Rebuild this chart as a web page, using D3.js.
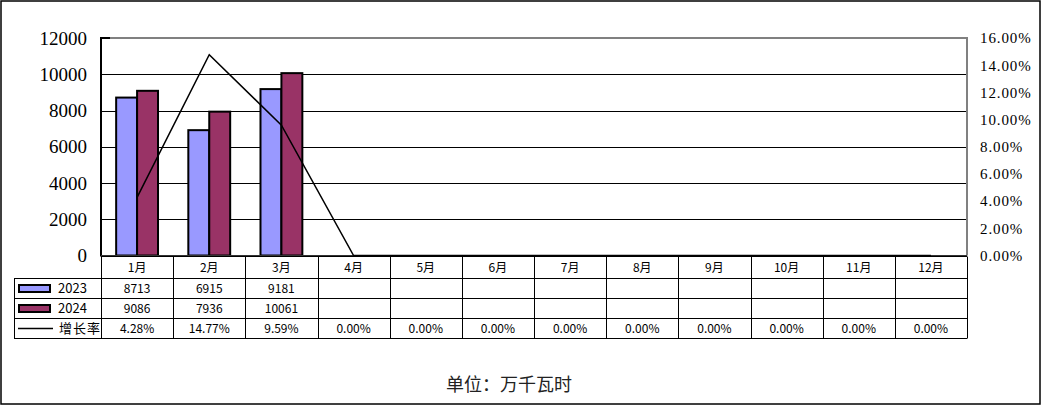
<!DOCTYPE html>
<html><head><meta charset="utf-8">
<script src="https://cdn.jsdelivr.net/npm/d3@7"></script>
<style>
html,body{margin:0;padding:0;background:#fff;}
svg{display:block;}
</style></head>
<body>
<svg id="c" width="1042" height="406"></svg>
<script>
const months = ["1月","2月","3月","4月","5月","6月","7月","8月","9月","10月","11月","12月"];
const seriesNames = ["2023","2024"];
const values2023 = [8713, 6915, 9181];
const values2024 = [9086, 7936, 10061];
const growth = [4.28, 14.77, 9.59, 0, 0, 0, 0, 0, 0, 0, 0, 0];
const leftTicks = [0, 2000, 4000, 6000, 8000, 10000, 12000];
const rightTicks = [0, 2, 4, 6, 8, 10, 12, 14, 16];
const lineName = "增长率";
const unitLabel = "单位：万千瓦时";
const colors = {"2023": "#9999ff", "2024": "#993366"};

const svg = d3.select("#c");
const X0 = 101, X1 = 967, YT = 38, YB = 255.5;

// outer frame
svg.append("rect").attr("x",1).attr("y",1).attr("width",1039).attr("height",403)
  .attr("fill","none").attr("stroke","#000").attr("stroke-width",1.5);

const x = d3.scaleBand().domain(months).range([X0, X1]).padding(0);
const bw = x.bandwidth();
const xs = d3.scaleBand().domain(seriesNames).range([bw*0.21, bw*0.79]).padding(0);
const yL = d3.scaleLinear().domain([0, 12000]).range([YB, YT]);
const yR = d3.scaleLinear().domain([0, 16]).range([YB, YT]);

// gridlines
svg.append("g").selectAll("line").data(leftTicks.filter(t => t>0 && t<12000)).join("line")
  .attr("x1", X0).attr("x2", X1).attr("y1", d => Math.round(yL(d))+0.5).attr("y2", d => Math.round(yL(d))+0.5)
  .attr("stroke", "#000").attr("stroke-width", 1);

// plot border (grey)
svg.append("path").attr("d", `M${X0},${YT}H${X1}V${YB}`).attr("fill","none")
  .attr("stroke","#808080").attr("stroke-width",2);
// left axis
svg.append("line").attr("x1",X0).attr("x2",X0).attr("y1",YT).attr("y2",YB+1).attr("stroke","#000").attr("stroke-width",2);
svg.append("line").attr("x1",X0-1).attr("x2",X0+9).attr("y1",YT).attr("y2",YT).attr("stroke","#000").attr("stroke-width",2);

// left axis labels
const axL = d3.axisLeft(yL).tickValues(leftTicks).tickSize(0).tickPadding(14).tickFormat(d3.format("d"));
const gL = svg.append("g").attr("transform", `translate(${X0},0)`).call(axL);
gL.select(".domain").remove();
gL.selectAll("text").attr("font-family","'Liberation Serif', serif").attr("font-size",19).attr("fill","#000");

// right axis labels
const axR = d3.axisRight(yR).tickValues(rightTicks).tickSize(0).tickPadding(13)
  .tickFormat(d => d3.format(".2f")(d) + "%");
const gR = svg.append("g").attr("transform", `translate(${X1},0)`).call(axR);
gR.select(".domain").remove();
gR.selectAll("text").attr("font-family","'Liberation Serif', serif").attr("font-size",15)
  .attr("letter-spacing","0.9px").attr("fill","#000");

// bars
const barData = [];
values2023.forEach((v,i) => barData.push({m: months[i], s: "2023", v}));
values2024.forEach((v,i) => barData.push({m: months[i], s: "2024", v}));
svg.append("g").selectAll("rect").data(barData).join("rect")
  .attr("x", d => x(d.m) + xs(d.s))
  .attr("y", d => yL(d.v))
  .attr("width", xs.bandwidth())
  .attr("height", d => YB - yL(d.v))
  .attr("fill", d => colors[d.s])
  .attr("stroke", "#000").attr("stroke-width", 2);

// x axis baseline
svg.append("line").attr("x1",X0).attr("x2",X1).attr("y1",YB+0.5).attr("y2",YB+0.5).attr("stroke","#333").attr("stroke-width",2);

// growth line
const line = d3.line().x((d,i) => x(months[i]) + bw/2).y(d => yR(d));
svg.append("path").datum(growth).attr("d", line).attr("fill","none")
  .attr("stroke","#000").attr("stroke-width",1.5);

// data table
const TX0 = 14;
const rowsY = [256.5, 278.5, 298.5, 318.5, 338.5];
const tbl = svg.append("g").attr("stroke","#000").attr("stroke-width",1);
tbl.append("line").attr("x1",X0).attr("x2",X1).attr("y1",rowsY[0]).attr("y2",rowsY[0]);
[1,2,3,4].forEach(i => tbl.append("line").attr("x1",TX0).attr("x2",X1).attr("y1",rowsY[i]).attr("y2",rowsY[i]));
const colEdges = months.map(m => x(m)).concat([X1]);
tbl.selectAll("line.v").data(colEdges).join("line").attr("class","v")
  .attr("x1", d => Math.round(d)+0.5).attr("x2", d => Math.round(d)+0.5)
  .attr("y1", rowsY[0]).attr("y2", rowsY[4]);
tbl.append("line").attr("x1",TX0+0.5).attr("x2",TX0+0.5).attr("y1",rowsY[1]).attr("y2",rowsY[4]);

const tfont = "'Noto Sans CJK SC', 'DejaVu Sans', sans-serif";
const tt = svg.append("g").attr("font-family",tfont).attr("font-size",12).attr("fill","#000").attr("text-anchor","middle");
tt.selectAll("text.h").data(months).join("text").attr("class","h")
  .attr("x", d => x(d)+bw/2).attr("y", (rowsY[0]+rowsY[1])/2).attr("dy","0.36em").text(d => d);
tt.selectAll("text.a").data(values2023).join("text").attr("class","a")
  .attr("x", (d,i) => x(months[i])+bw/2).attr("y", (rowsY[1]+rowsY[2])/2).attr("dy","0.36em").text(d => d);
tt.selectAll("text.b").data(values2024).join("text").attr("class","b")
  .attr("x", (d,i) => x(months[i])+bw/2).attr("y", (rowsY[2]+rowsY[3])/2).attr("dy","0.36em").text(d => d);
tt.selectAll("text.g").data(growth).join("text").attr("class","g")
  .attr("x", (d,i) => x(months[i])+bw/2).attr("y", (rowsY[3]+rowsY[4])/2).attr("dy","0.36em")
  .text(d => d3.format(".2f")(d) + "%");

// legend column
const lg = svg.append("g");
seriesNames.forEach((s,i) => {
  const cy = (rowsY[i+1]+rowsY[i+2])/2;
  lg.append("rect").attr("x",19).attr("y",cy-3.5).attr("width",31).attr("height",7)
    .attr("fill",colors[s]).attr("stroke","#000").attr("stroke-width",2);
  lg.append("text").attr("x",58).attr("y",cy).attr("dy","0.36em").attr("font-family",tfont)
    .attr("font-size",13).text(s);
});
{
  const cy = (rowsY[3]+rowsY[4])/2;
  lg.append("line").attr("x1",18).attr("x2",53).attr("y1",cy).attr("y2",cy).attr("stroke","#000").attr("stroke-width",1.5);
  lg.append("text").attr("x",59).attr("y",cy).attr("dy","0.36em").attr("font-family",tfont)
    .attr("font-size",13).attr("letter-spacing","1px").text(lineName);
}

// unit label
svg.append("text").attr("x",509).attr("y",385).attr("dy","0.36em").attr("text-anchor","middle")
  .attr("font-family",tfont).attr("font-size",18).attr("fill","#222").text(unitLabel);
</script>
</body></html>
